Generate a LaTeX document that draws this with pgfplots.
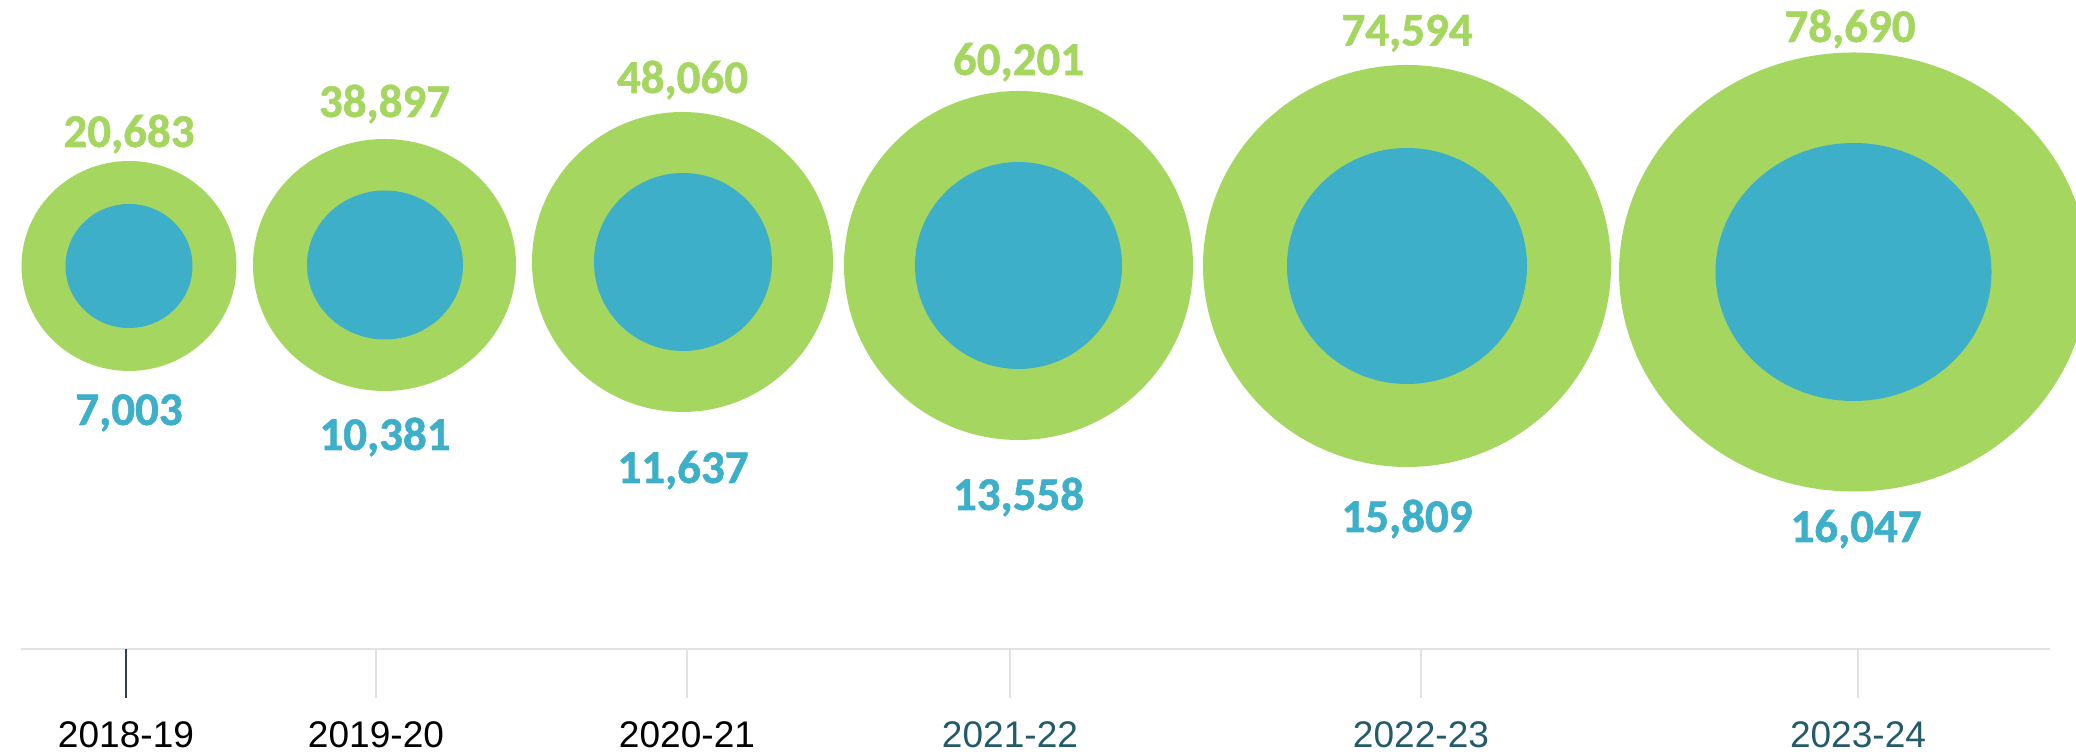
\documentclass[border=0pt]{standalone}
\usepackage{pgfplots}
\pgfplotsset{compat=1.18}
\usepackage{pgfplotstable}
\usepackage{fontspec}
\setmainfont{Liberation Sans}
\newfontfamily\carlito{Carlito Bold}[FakeBold=1.2]
\definecolor{bgreen}{HTML}{A5D65F}
\definecolor{bblue}{HTML}{3DAFC8}
\definecolor{tealtxt}{HTML}{235B68}
\definecolor{axgray}{HTML}{E2E2E2}
\definecolor{darktick}{HTML}{2F4254}

% x, y = centre (px, y measured upward); w, h = size (px); lx, ly = label baseline; val = value
\pgfplotstableread{
x      y     w    h    lx     ly     val
129    488   215  210  129    607    20683
384.5  489   263  252  384.5  637    38897
682.5  492   301  300  682.5  661    48060
1018.5 488.5 349  349  1018.5 679    60201
1407   488   408  402  1407   708.5  74594
1853.5 482   469  439  1850   712    78690
}\greentab
\pgfplotstableread{
x      y     w    h    lx     ly     val
129    488   127  124  129    329    7003
385    489   156  149  385    304    10381
683    492   178  178  683    271    11637
1018.5 488.5 207  207  1018.5 244    13558
1407   488   240  236  1407   222    15809
1853.5 482   276  258  1856   212    16047
}\bluetab

\pgfdeclareplotmark{bub}{%
  \pgfpathellipse{\pgfpointorigin}{\pgfpoint{\bw*0.1875pt}{0pt}}{\pgfpoint{0pt}{\bh*0.1875pt}}%
  \pgfusepathqfill}

\begin{document}
\begin{tikzpicture}
\useasboundingbox (0,0) rectangle (778.5pt,282.75pt);
\begin{axis}[
  at={(7.875pt,39.375pt)}, anchor=south west,
  scale only axis, width=760.875pt, height=243.375pt,
  xmin=21, xmax=2050, ymin=105, ymax=754,
  clip=false,
  axis x line*=bottom, axis y line=none,
  x axis line style={axgray, line width=0.75pt},
  ytick=\empty,
  xtick={376,687,1010,1421,1858},
  xticklabels={{2019-20},{2020-21},{\textcolor{tealtxt}{2021-22}},{\textcolor{tealtxt}{2022-23}},{\textcolor{tealtxt}{2023-24}}},
  tick align=outside,
  major tick length=18.375pt,
  xtick style={axgray, line width=0.55pt},
  extra x ticks={126},
  extra x tick labels={2018-19},
  extra x tick style={xtick style={darktick, line width=0.55pt}},
  xticklabel style={font=\fontsize{13.9}{16}\selectfont, text=black, anchor=base, yshift=-18.75pt, inner sep=0pt},
  /pgf/number format/.cd, fixed, precision=0, 1000 sep={,}, assume math mode=true,
]
\addplot[scatter, only marks, mark=bub, color=bgreen,
  visualization depends on={\thisrow{w}\as\bw},
  visualization depends on={\thisrow{h}\as\bh},
  scatter/@pre marker code/.code={}, scatter/@post marker code/.code={}]
  table[x=x, y=y] {\greentab};
\addplot[scatter, only marks, mark=bub, color=bblue,
  visualization depends on={\thisrow{w}\as\bw},
  visualization depends on={\thisrow{h}\as\bh},
  scatter/@pre marker code/.code={}, scatter/@post marker code/.code={}]
  table[x=x, y=y] {\bluetab};
\addplot[only marks, mark=none, point meta=explicit,
  nodes near coords,
  every node near coord/.append style={anchor=base, inner sep=0pt, text=bgreen,
    font=\carlito\fontsize{17.6}{20}\selectfont}]
  table[x=lx, y=ly, meta=val] {\greentab};
\addplot[only marks, mark=none, point meta=explicit,
  nodes near coords,
  every node near coord/.append style={anchor=base, inner sep=0pt, text=bblue,
    font=\carlito\fontsize{17.6}{20}\selectfont}]
  table[x=lx, y=ly, meta=val] {\bluetab};
\end{axis}
\end{tikzpicture}
\end{document}
